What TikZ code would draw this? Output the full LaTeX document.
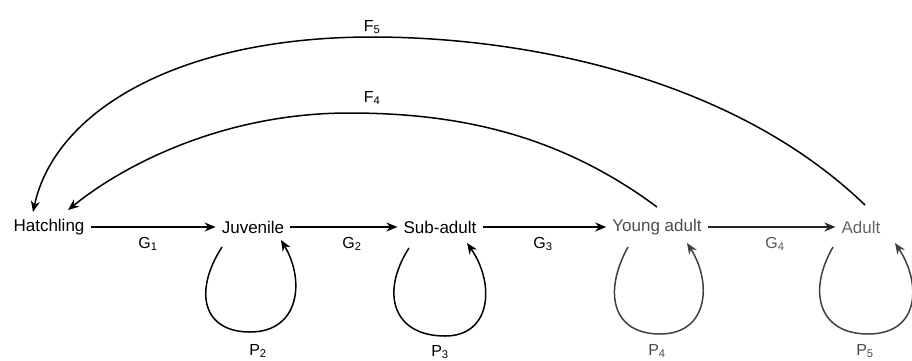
\documentclass[tikz,border=0pt]{standalone}
\usepackage{fontspec}
\setmainfont{Liberation Sans}
\usetikzlibrary{arrows.meta,calc}
\begin{document}
\begin{tikzpicture}[x=1pt,y=-1pt,
  state/.style={inner xsep=6pt,inner ysep=3pt,font=\fontsize{17}{20}\selectfont},
  lbl/.style={inner sep=0pt,font=\fontsize{16}{19}\selectfont},
  conn/.style={line width=1.5pt,-{Stealth[length=11pt,width=9pt]}},
  ]
\useasboundingbox (0,0) rectangle (912,360);
% states
\node[state] (h)  at (49,227)  {Hatchling};
\node[state] (j)  at (253,227) {Juvenile};
\node[state] (s)  at (440,227) {Sub-adult};
\node[state,text=black!70] (ya) at (657,227) {Young adult};
\node[state,text=black!60] (ad) at (861,227) {Adult};
% growth arrows
\draw[conn] (h) -- (j);
\draw[conn] (j) -- (s);
\draw[conn] (s) -- (ya);
\draw[conn,black!85] (ya) -- (ad);
\node[lbl] (g1) at (148,244) {G\textsubscript{1}};
\node[lbl] (g2) at (352,244) {G\textsubscript{2}};
\node[lbl] (g3) at (543,244) {G\textsubscript{3}};
\node[lbl,text=black!65] (g4) at (775,244) {G\textsubscript{4}};
% persistence loops
\draw[conn] ($(j)+(-31,20)$) .. controls ($(j)+(-60,65)$) and ($(j)+(-50,105)$) .. ($(j)+(-3,105)$)
   .. controls ($(j)+(47,105)$) and ($(j)+(52,53)$) .. ($(j)+(28,13)$);
\draw[conn] ($(s)+(-31,21)$) .. controls ($(s)+(-60,66)$) and ($(s)+(-47,109)$) .. ($(s)+(5,109)$)
   .. controls ($(s)+(52,109)$) and ($(s)+(55,56)$) .. ($(s)+(27,16)$);
\draw[conn,black!75] ($(ya)+(-29,20)$) .. controls ($(ya)+(-54,65)$) and ($(ya)+(-45,107)$) .. ($(ya)+(3,107)$)
   .. controls ($(ya)+(52,107)$) and ($(ya)+(55,55)$) .. ($(ya)+(30,16)$);
\draw[conn,black!75] ($(ad)+(-28,20)$) .. controls ($(ad)+(-54,65)$) and ($(ad)+(-42,107)$) .. ($(ad)+(7,107)$)
   .. controls ($(ad)+(60,107)$) and ($(ad)+(60,55)$) .. ($(ad)+(34,16)$);
\node[lbl] (p2) at (258,351) {P\textsubscript{2}};
\node[lbl] (p3) at (440,352) {P\textsubscript{3}};
\node[lbl,text=black!70] (p4) at (657,351) {P\textsubscript{4}};
\node[lbl,text=black!70] (p5) at (865,351) {P\textsubscript{5}};
% fecundity arcs
\draw[conn] ($(ad)+(4,-22)$) .. controls (730,75) and (520,37) .. (372,37)
   .. controls (180,37) and (55,110) .. ($(h)+(-16,-15)$);
\draw[conn] ($(ya)+(0,-20)$) .. controls (560,135) and (460,113) .. (349,113)
   .. controls (230,113) and (130,160) .. ($(h)+(19,-17)$);
\node[lbl] (f5) at (372,27) {F\textsubscript{5}};
\node[lbl] (f4) at (372,98) {F\textsubscript{4}};
\end{tikzpicture}
\end{document}
